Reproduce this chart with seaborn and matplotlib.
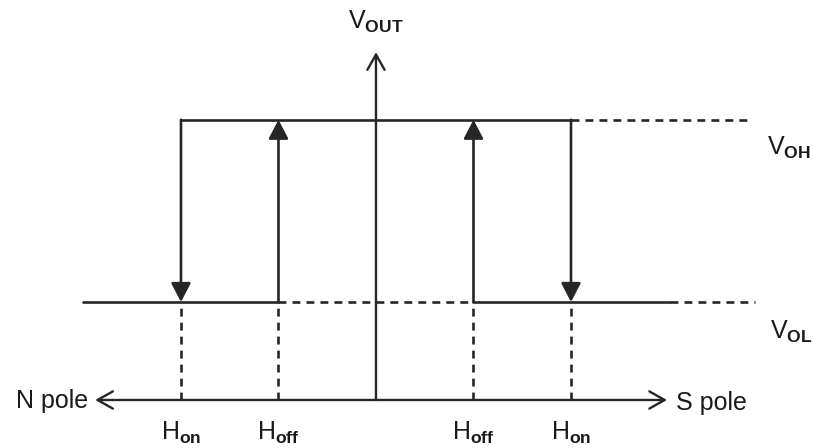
import matplotlib
matplotlib.use("Agg")
import matplotlib.pyplot as plt
import seaborn as sns
import pandas as pd
import numpy as np

# ---- data (diagram values) ----
H_on = 2.0          # operate point magnitude (both poles)
H_off = 1.0         # release point magnitude (both poles)
V_OH = 2.86         # output high level
V_OL = 1.0          # output low level
h_points = [-H_on, -H_off, H_off, H_on]
h_labels = ["on", "off", "off", "on"]
arrow_dirs = ["down", "up", "up", "down"]

# ---- layout ----
X_MIN, X_MAX = -3.856, 4.482
Y_MIN, Y_MAX = -0.49, 4.082
AX_LEFT, AX_RIGHT, AX_TOP = -2.88, 2.985, 3.55
LOW_LEFT, LOW_RIGHT, LOW_DASH_END = -3.0, 3.02, 3.89
HIGH_DASH_END = 3.84

sns.set_theme(style="white")
plt.rcParams["font.family"] = ["Liberation Sans", "DejaVu Sans"]
plt.rcParams["mathtext.fontset"] = "custom"
plt.rcParams["mathtext.rm"] = "Liberation Sans"
plt.rcParams["mathtext.it"] = "Liberation Sans"
plt.rcParams["mathtext.bf"] = "Liberation Sans:bold"

LC = "#262626"
TC = "#1a1a1a"

# build segments
segs = []
def seg(name, xs, ys, kind):
    for x, y in zip(xs, ys):
        segs.append({"seg": name, "x": x, "y": y, "kind": kind})

seg("low_l", [LOW_LEFT, -H_off], [V_OL, V_OL], "solid")
seg("low_m", [-H_off, H_off], [V_OL, V_OL], "dash")
seg("low_r", [H_off, LOW_RIGHT], [V_OL, V_OL], "solid")
seg("low_d", [LOW_RIGHT, LOW_DASH_END], [V_OL, V_OL], "dash")
seg("high", [-H_on, H_on], [V_OH, V_OH], "solid")
seg("high_d", [H_on, HIGH_DASH_END], [V_OH, V_OH], "dash")
for i, h in enumerate(h_points):
    seg(f"v{i}", [h, h], [0, V_OL], "dash")
df = pd.DataFrame(segs)

fig = plt.figure(figsize=(8.13, 4.48), dpi=100)
ax = fig.add_axes([0, 0, 1, 1])
sns.lineplot(data=df, x="x", y="y", units="seg", style="kind",
             estimator=None, sort=False, color=LC, linewidth=1.9,
             dashes={"solid": "", "dash": (3.0, 2.3)}, legend=False, ax=ax)

# axes arrows (open heads)
ax.annotate("", xy=(AX_RIGHT, 0), xytext=(AX_LEFT, 0),
            arrowprops=dict(arrowstyle="<->,head_length=1.1,head_width=0.62",
                            mutation_scale=10, color=LC, lw=1.7,
                            shrinkA=0, shrinkB=0))
ax.annotate("", xy=(0, AX_TOP), xytext=(0, 0),
            arrowprops=dict(arrowstyle="->,head_length=1.1,head_width=0.62",
                            mutation_scale=10, color=LC, lw=1.7,
                            shrinkA=0, shrinkB=0))

# hysteresis transition arrows (filled heads)
for h, d in zip(h_points, arrow_dirs):
    start, end = (V_OH, V_OL) if d == "down" else (V_OL, V_OH)
    ax.annotate("", xy=(h, end), xytext=(h, start),
                arrowprops=dict(arrowstyle="-|>,head_length=1.15,head_width=0.6",
                                mutation_scale=10, color=LC, fc=LC, lw=1.9,
                                shrinkA=0, shrinkB=0))

# labels
fs_main = 18
for h, lab in zip(h_points, h_labels):
    ax.text(h, -0.34, r"$\mathregular{H_{\mathbf{%s}}}$" % lab, ha="center", va="center",
            fontsize=fs_main, color=TC)

ax.text(-0.29, 3.79, r"$\mathregular{V_{\mathbf{OUT}}}$", ha="left", va="baseline",
        fontsize=fs_main, color=TC)
ax.text(4.01, 2.50, r"$\mathregular{V_{\mathbf{OH}}}$", ha="left", va="baseline",
        fontsize=fs_main, color=TC)
ax.text(4.04, 0.62, r"$\mathregular{V_{\mathbf{OL}}}$", ha="left", va="baseline",
        fontsize=fs_main, color=TC)
ax.text(-2.95, -0.08, "N pole", ha="right", va="baseline",
        fontsize=fs_main, color=TC)
ax.text(3.08, -0.10, "S pole", ha="left", va="baseline",
        fontsize=fs_main, color=TC)

ax.set_xlim(X_MIN, X_MAX)
ax.set_ylim(Y_MIN, Y_MAX)
ax.set_axis_off()
fig.savefig("out.png", dpi=100, facecolor="white")
